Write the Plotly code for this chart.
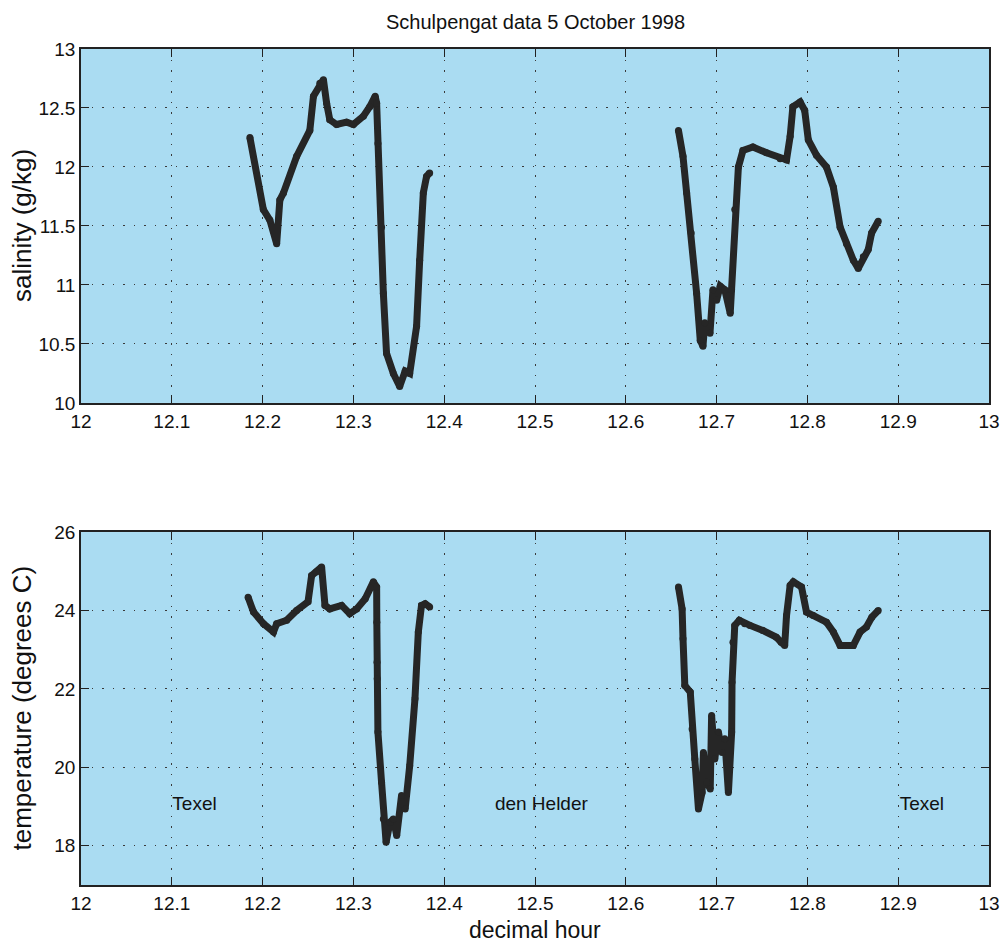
import plotly.graph_objects as go

# Salinity, first pass (Texel -> den Helder)
sal_hour_1 = [12.186, 12.2008, 12.208, 12.2155, 12.219, 12.223, 12.2375, 12.252, 12.256, 12.263,
              12.267, 12.2705, 12.274, 12.2815, 12.2925, 12.300, 12.311, 12.318, 12.324, 12.3256,
              12.327, 12.331, 12.333, 12.3365, 12.344, 12.351, 12.357, 12.362, 12.3696, 12.373,
              12.377, 12.3806, 12.384]
sal_val_1 = [12.25, 11.64, 11.55, 11.35, 11.72, 11.78, 12.09, 12.31, 12.60, 12.71,
             12.74, 12.54, 12.40, 12.36, 12.38, 12.36, 12.43, 12.51, 12.60, 12.54,
             12.20, 11.49, 10.93, 10.42, 10.25, 10.14, 10.27, 10.25, 10.65, 11.21,
             11.78, 11.92, 11.95]
# Salinity, second pass (den Helder -> Texel)
sal_hour_2 = [12.658, 12.663, 12.667, 12.672, 12.678, 12.682, 12.685, 12.687, 12.6927, 12.696,
              12.700, 12.704, 12.709, 12.715, 12.7165, 12.720, 12.724, 12.729, 12.740, 12.755,
              12.770, 12.777, 12.781, 12.784, 12.792, 12.797, 12.801, 12.810, 12.821, 12.8286,
              12.836, 12.843, 12.8506, 12.856, 12.8616, 12.867, 12.8707, 12.878]
sal_val_2 = [12.31, 12.09, 11.78, 11.44, 10.93, 10.53, 10.48, 10.68, 10.59, 10.96,
             10.87, 10.99, 10.96, 10.76, 10.96, 11.64, 12.00, 12.14, 12.17, 12.12,
             12.07, 12.06, 12.26, 12.51, 12.55, 12.48, 12.23, 12.10, 12.00, 11.83,
             11.49, 11.35, 11.21, 11.14, 11.24, 11.30, 11.44, 11.54]

# Temperature, first pass
tmp_hour_1 = [12.184, 12.190, 12.201, 12.212, 12.2155, 12.2265, 12.2375, 12.250, 12.254, 12.259,
              12.265, 12.2687, 12.274, 12.287, 12.296, 12.3036, 12.313, 12.322, 12.3256, 12.3258,
              12.326, 12.3262, 12.327, 12.331, 12.333, 12.336, 12.3403, 12.344, 12.3477, 12.353,
              12.357, 12.362, 12.3678, 12.3715, 12.375, 12.379, 12.384]
tmp_val_1 = [24.34, 23.96, 23.66, 23.45, 23.66, 23.75, 24.00, 24.22, 24.89, 24.98,
             25.11, 24.13, 24.04, 24.13, 23.92, 24.04, 24.30, 24.73, 24.60, 23.70,
             22.68, 22.26, 20.90, 19.62, 18.68, 18.09, 18.60, 18.68, 18.26, 19.28,
             18.94, 20.04, 21.75, 23.45, 24.13, 24.17, 24.09]
# Temperature, second pass
tmp_hour_2 = [12.658, 12.662, 12.663, 12.665, 12.671, 12.673, 12.676, 12.680, 12.684, 12.6855,
              12.689, 12.693, 12.6945, 12.698, 12.702, 12.706, 12.709, 12.713, 12.7166, 12.717,
              12.718, 12.720, 12.725, 12.731, 12.7368, 12.751, 12.7657, 12.771, 12.775, 12.777,
              12.781, 12.7845, 12.7935, 12.799, 12.8065, 12.821, 12.8286, 12.836, 12.8506, 12.858,
              12.865, 12.871, 12.878]
tmp_val_2 = [24.60, 24.04, 23.28, 22.09, 21.92, 20.98, 20.21, 18.94, 19.36, 20.38,
             19.62, 19.45, 21.32, 20.21, 20.90, 20.38, 20.73, 19.36, 20.90, 22.17,
             23.19, 23.62, 23.75, 23.66, 23.62, 23.49, 23.32, 23.19, 23.11, 23.87,
             24.64, 24.73, 24.60, 23.96, 23.87, 23.70, 23.45, 23.11, 23.11, 23.45,
             23.58, 23.83, 24.00]

place_names = ["Texel", "den Helder", "Texel"]
place_hours = [12.125, 12.507, 12.926]
place_temp = [19.04, 19.04, 19.04]

x_ticks = [12, 12.1, 12.2, 12.3, 12.4, 12.5, 12.6, 12.7, 12.8, 12.9, 13]
x_tick_text = ["12", "12.1", "12.2", "12.3", "12.4", "12.5", "12.6", "12.7", "12.8", "12.9", "13"]
sal_ticks = [10, 10.5, 11, 11.5, 12, 12.5, 13]
sal_tick_text = ["10", "10.5", "11", "11.5", "12", "12.5", "13"]
tmp_ticks = [18, 20, 22, 24, 26]

LINE_COLOR = "#262626"
BG = "#aadcf2"
FONT = "Liberation Sans, Arial, sans-serif"

fig = go.Figure()
for xs, ys in [(sal_hour_1, sal_val_1), (sal_hour_2, sal_val_2)]:
    fig.add_trace(go.Scatter(x=xs, y=ys, mode="lines+markers", xaxis="x", yaxis="y",
                             line=dict(color=LINE_COLOR, width=7),
                             marker=dict(color=LINE_COLOR, size=7), showlegend=False))
for xs, ys in [(tmp_hour_1, tmp_val_1), (tmp_hour_2, tmp_val_2)]:
    fig.add_trace(go.Scatter(x=xs, y=ys, mode="lines+markers", xaxis="x2", yaxis="y2",
                             line=dict(color=LINE_COLOR, width=7),
                             marker=dict(color=LINE_COLOR, size=7), showlegend=False))

fig.add_trace(go.Scatter(x=place_hours, y=place_temp, text=place_names, mode="text",
                         xaxis="x2", yaxis="y2", textposition="middle center",
                         textfont=dict(size=19, color="#111111", family=FONT), showlegend=False))

axis_common = dict(showline=True, linecolor="#222222", linewidth=1.5, mirror="allticks",
                   ticks="inside", ticklen=8, tickcolor="#222222", tickwidth=1.2,
                   showgrid=True, gridcolor="#3a3a3a", griddash="1.5px,9px", gridwidth=1.2,
                   zeroline=False, automargin=False,
                   tickfont=dict(size=19, color="#111111", family=FONT))

fig.update_layout(
    width=1002, height=944, autosize=False,
    paper_bgcolor="white", plot_bgcolor=BG,
    margin=dict(l=81, r=13, t=49, b=59, autoexpand=False),
    font=dict(family=FONT, color="#111111"),
    xaxis=dict(domain=[0, 1], range=[12, 13], tickvals=x_ticks, ticktext=x_tick_text,
               anchor="y", **axis_common),
    yaxis=dict(domain=[0.5766, 1.0], range=[10, 13], tickvals=sal_ticks, ticktext=sal_tick_text,
               anchor="x", **axis_common),
    xaxis2=dict(domain=[0, 1], range=[12, 13], tickvals=x_ticks, ticktext=x_tick_text,
                anchor="y2", **axis_common),
    yaxis2=dict(domain=[0, 0.4222], range=[17, 26], tickvals=tmp_ticks,
                anchor="x2", **axis_common),
    annotations=[
        dict(text="Schulpengat data 5 October 1998", xref="paper", yref="paper",
             x=0.5, y=1.0, yshift=27, showarrow=False, xanchor="center", yanchor="middle",
             font=dict(size=20)),
        dict(text="salinity (g/kg)", xref="paper", yref="paper", textangle=-90,
             x=0, xshift=-59, y=0.7883, showarrow=False, xanchor="center", yanchor="middle",
             font=dict(size=26)),
        dict(text="temperature (degrees C)", xref="paper", yref="paper", textangle=-90,
             x=0, xshift=-59, y=0.2111, showarrow=False, xanchor="center", yanchor="middle",
             font=dict(size=26)),
        dict(text="decimal hour", xref="paper", yref="paper",
             x=0.5, y=0, yshift=-45, showarrow=False, xanchor="center", yanchor="middle",
             font=dict(size=23)),
    ],
)

fig.write_html(
    "out.html",
    config={"responsive": False, "displayModeBar": False},
    post_script="document.body.style.margin='0';document.documentElement.style.overflow='hidden';",
)
